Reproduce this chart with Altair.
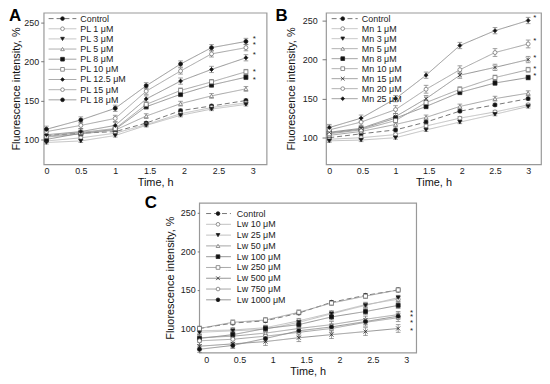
import altair as alt
import pandas as pd

FONT = "Liberation Sans"

# ---------------- Panel A ----------------
NAMES_A = ["Control", "PL 1 μM", "PL 3 μM", "PL 5 μM", "PL 8 μM", "PL 10 μM",
           "PL 12.5 μM", "PL 15 μM", "PL 18 μM"]
TIME_A = [0, 0.5, 1, 1.45, 1.95, 2.4, 2.9]
VALUES_A = [
    [105, 108, 110, 121, 137, 143, 150],
    [98, 102, 108, 119, 133, 141, 147],
    [96, 98, 105, 118, 131, 139, 145],
    [103, 107, 112, 130, 146, 156, 165],
    [100, 108, 113, 142, 158, 170, 180],
    [104, 109, 114, 145, 163, 174, 187],
    [106, 110, 118, 152, 175, 190, 205],
    [110, 118, 127, 162, 188, 210, 218],
    [113, 125, 140, 169, 197, 218, 226],
]
ERR_A = [2, 2, 2, 3, 3, 3, 4, 4, 4]
STAR_X_A = 3.02
STAR_Y_A = [232, 224, 211, 189, 179]

# ---------------- Panel B ----------------
NAMES_B = ["Control", "Mn 1 μM", "Mn 3 μM", "Mn 5 μM", "Mn 8 μM", "Mn 10 μM",
           "Mn 15 μM", "Mn 20 μM", "Mn 25 μM"]
TIME_B = [0, 0.48, 1, 1.46, 1.97, 2.5, 3]
VALUES_B = [
    [100, 105, 110, 120, 134, 142, 150],
    [98, 100, 104, 115, 125, 133, 142],
    [96, 97, 100, 110, 120, 130, 140],
    [103, 108, 117, 126, 140, 150, 157],
    [106, 111, 125, 140, 158, 170, 177],
    [105, 110, 122, 145, 162, 177, 187],
    [107, 112, 127, 150, 180, 190, 200],
    [110, 120, 136, 162, 187, 209, 220],
    [113, 125, 150, 180, 218, 237, 250],
]
ERR_B = [2, 2, 2, 3, 3, 3, 4, 5, 4]
STAR_X_B = 3.1
STAR_Y_B = [256, 226, 205, 191, 181]

# ---------------- Panel C ----------------
NAMES_C = ["Control", "Lw 10 μM", "Lw 25 μM", "Lw 50 μM", "Lw 100 μM", "Lw 250 μM",
           "Lw 500 μM", "Lw 750 μM", "Lw 1000 μM"]
TIME_C = [-0.1, 0.4, 0.89, 1.39, 1.88, 2.39, 2.88]
VALUES_C = [
    [100, 107, 110, 120, 134, 143, 150],
    [97, 98, 101, 110, 120, 131, 138],
    [95, 97, 99, 108, 119, 130, 140],
    [88, 90, 94, 100, 105, 112, 118],
    [87, 92, 100, 105, 115, 122, 130],
    [100, 108, 111, 121, 133, 142, 150],
    [77, 80, 83, 88, 92, 96, 100],
    [84, 86, 90, 95, 100, 108, 114],
    [73, 78, 87, 97, 102, 109, 116],
]
ERR_C = [2, 3, 3, 4, 4, 3, 5, 5, 4]
STAR_X_C = 3.08
STAR_Y_C = [123, 118, 110, 99]

X_TICKS = [0, 0.5, 1, 1.5, 2, 2.5, 3]
Y_TICKS = [100, 150, 200, 250]

# ---------------- styles ----------------
XMARK = "M-1,-1L1,1M-1,1L1,-1"
SHAPES_A = ["circle", "circle", "triangle-down", "triangle-up", "square", "square",
            "diamond", "circle", "circle"]
SHAPES_B = ["circle", "circle", "triangle-down", "triangle-up", "square", "square",
            XMARK, "circle", "diamond"]
SHAPES_C = ["circle", "circle", "triangle-down", "triangle-up", "square", "square",
            XMARK, "circle", "circle"]
FILLED = [True, False, True, False, True, False, True, False, True]
LINE_COLORS = ["#666666", "#b8b8b8", "#b8b8b8", "#9a9a9a", "#888888", "#9a9a9a",
               "#888888", "#9a9a9a", "#888888"]
DASHES = [[5, 3], [1, 0], [1, 0], [1, 0], [1, 0], [1, 0], [1, 0], [1, 0], [1, 0]]
FILLS = ["#111111" if f else "#ffffff" for f in FILLED]
PSTROKES = ["#222222" if f else "#777777" for f in FILLED]

INDEP = dict(color="independent", fill="independent", stroke="independent",
             shape="independent", strokeDash="independent")


def panel(letter, names, times, values, errs, shapes, star_x, star_y,
          xdom, ydom, w, h, leg, axp, letter_pos):
    rows = []
    for n, vals, e in zip(names, values, errs):
        for t, v in zip(times, vals):
            rows.append({"series": n, "t": t, "v": v, "lo": v - e, "hi": v + e})
    df = pd.DataFrame(rows)

    def sc(rng):
        return alt.Scale(domain=names, range=rng)

    xs = alt.Scale(domain=xdom, nice=False, zero=False)
    ys = alt.Scale(domain=ydom, nice=False, zero=False)
    xax = alt.Axis(values=X_TICKS, format="~g", title="Time, h",
                   ticks=False, labelPadding=axp["xlp"], titlePadding=axp["xtp"],
                   labelFlush=False, labelOverlap=False, titleFontWeight="normal")
    yax = alt.Axis(values=Y_TICKS, title="Fluorescence intensity, %",
                   tickSize=axp["yts"], labelPadding=axp["ylp"], titlePadding=axp["ytp"],
                   labelOverlap=False, titleFontWeight="normal")

    def X(f):
        return alt.X(f, scale=xs, axis=xax)

    def Y(f):
        return alt.Y(f, scale=ys, axis=yax)

    color = alt.Color("series:N", scale=sc(LINE_COLORS), legend=None)
    dash = alt.StrokeDash("series:N", scale=sc(DASHES), legend=None)
    shape = alt.Shape("series:N", scale=sc(shapes), legend=None)
    fill = alt.Fill("series:N", scale=sc(FILLS), legend=None)
    stroke = alt.Stroke("series:N", scale=sc(PSTROKES), legend=None)

    base = alt.Chart(df)
    lines = base.mark_line(strokeWidth=0.9).encode(
        x=X("t:Q"), y=Y("v:Q"), color=color, strokeDash=dash)
    ebar = base.mark_rule(strokeWidth=0.7, color="#777777").encode(
        x=X("t:Q"), y=Y("lo:Q"), y2="hi:Q")
    cap_lo = base.mark_point(shape="M-1,0L1,0", size=22, strokeWidth=0.7,
                             color="#777777", opacity=1).encode(x=X("t:Q"), y=Y("lo:Q"))
    cap_hi = base.mark_point(shape="M-1,0L1,0", size=22, strokeWidth=0.7,
                             color="#777777", opacity=1).encode(x=X("t:Q"), y=Y("hi:Q"))
    pts = base.mark_point(filled=True, size=16, strokeWidth=0.8, opacity=1).encode(
        x=X("t:Q"), y=Y("v:Q"), shape=shape, fill=fill, stroke=stroke)

    ldf = pd.DataFrame({"series": names, "idx": list(range(len(names)))})
    lbase = alt.Chart(ldf).transform_calculate(
        ly=f"{leg['y0']} - {leg['step']} * datum.idx",
        lx1=f"{leg['x1']}", lx2=f"{leg['x2']}", lxm=f"{leg['xm']}", lxt=f"{leg['xt']}")
    lrule = lbase.mark_rule(strokeWidth=0.9).encode(
        x=X("lx1:Q"), x2="lx2:Q", y=Y("ly:Q"), color=color, strokeDash=dash)
    lpts = lbase.mark_point(filled=True, size=14, strokeWidth=0.8, opacity=1).encode(
        x=X("lxm:Q"), y=Y("ly:Q"), shape=shape, fill=fill, stroke=stroke)
    ltxt = lbase.mark_text(align="left", baseline="middle", font=FONT, fontSize=9,
                           color="#222222").encode(
        x=X("lxt:Q"), y=Y("ly:Q"), text="series:N")

    sdf = pd.DataFrame({"sy": star_y})
    stars = alt.Chart(sdf).transform_calculate(sx=f"{star_x}").mark_text(
        text="*", font=FONT, fontSize=8, dy=2, baseline="middle",
        color="#222222").encode(x=X("sx:Q"), y=Y("sy:Q"))

    lt = alt.Chart(pd.DataFrame({"l": [letter]})).mark_text(
        font=FONT, fontSize=17, fontWeight="bold", align="left",
        baseline="alphabetic", color="#000000").encode(
        x=alt.value(letter_pos[0]), y=alt.value(letter_pos[1]), text="l:N")

    return alt.layer(lines, ebar, cap_lo, cap_hi, pts, lrule, lpts, ltxt, stars, lt
                     ).properties(width=w, height=h)


A = panel("A", NAMES_A, TIME_A, VALUES_A, ERR_A, SHAPES_A, STAR_X_A, STAR_Y_A,
          [-0.04, 3.2], [68, 263], 225, 153,
          dict(y0=255.4, step=13.06, x1=0.032, x2=0.435, xm=0.234, xt=0.493),
          dict(xlp=2, xtp=1, yts=3, ylp=2, ytp=2), (-35, 8))
B = panel("B", NAMES_B, TIME_B, VALUES_B, ERR_B, SHAPES_B, STAR_X_B, STAR_Y_B,
          [-0.049, 3.194], [66, 260], 217, 153,
          dict(y0=252.4, step=12.8, x1=0.036, x2=0.429, xm=0.203, xt=0.491),
          dict(xlp=2, xtp=1, yts=4, ylp=5, ytp=6), (-51, 8))
C = panel("C", NAMES_C, TIME_C, VALUES_C, ERR_C, SHAPES_C, STAR_X_C, STAR_Y_C,
          [-0.104, 3.15], [68.8, 263], 219, 151,
          dict(y0=249.2, step=14.0, x1=0.0, x2=0.371, xm=0.178, xt=0.46),
          dict(xlp=3, xtp=1, yts=2, ylp=2, ytp=5), (-55, 5))

spacer = alt.Chart(pd.DataFrame({"v": [0]})).mark_point(opacity=0, size=1).encode(
    x=alt.value(0), y=alt.value(0)).properties(
    width=101, height=10, view=alt.ViewBackground(strokeOpacity=0))

top = alt.hconcat(A, B, spacing=7).resolve_scale(**INDEP)
bottom = alt.hconcat(spacer, C, spacing=0).resolve_scale(**INDEP)
chart = alt.vconcat(top, bottom, spacing=5).resolve_scale(**INDEP).properties(
    padding={"left": 0, "top": -4, "right": 0, "bottom": 0},
    background="white",
).configure_view(stroke="#999999", strokeWidth=1.2).configure_axis(
    grid=False, domain=False, labelFont=FONT, titleFont=FONT, labelFontSize=9,
    titleFontSize=11, titleFontWeight="normal", labelColor="#222222",
    titleColor="#111111", tickColor="#777777")

chart.save("out.html", embed_options={"renderer": "svg", "actions": False})
